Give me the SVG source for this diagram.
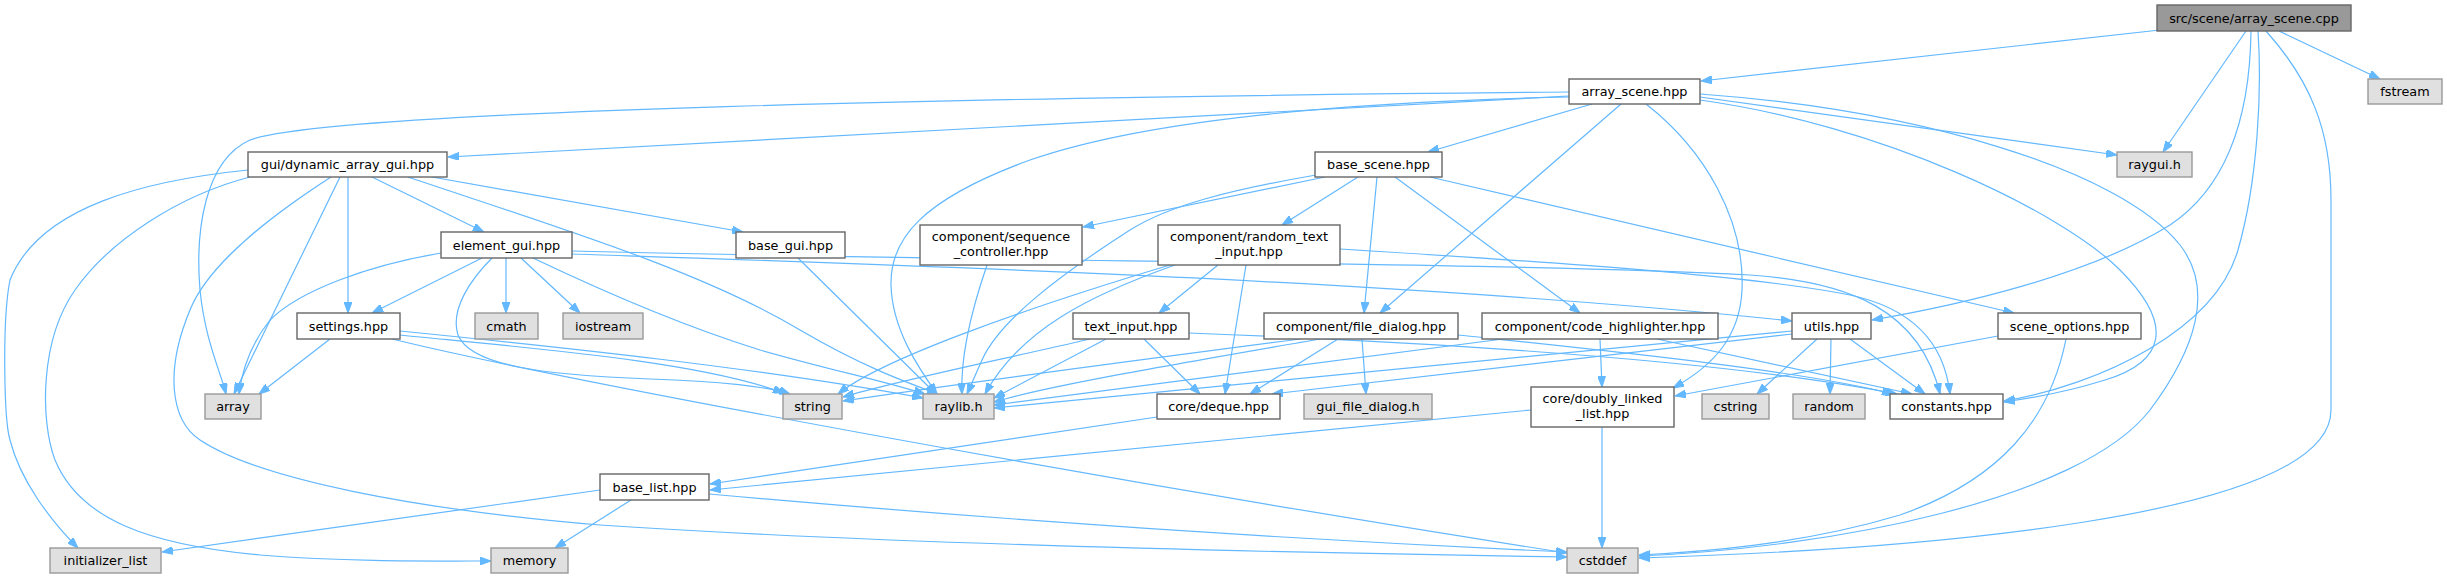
<svg xmlns="http://www.w3.org/2000/svg" width="2447" height="579" viewBox="0 0 2447 579">
<defs>
<marker id="a" markerWidth="11" markerHeight="8" refX="11" refY="4" orient="auto" markerUnits="userSpaceOnUse"><path d="M0,0 L11,4 L0,8 z" fill="#63b8ff" stroke="#63b8ff" stroke-width="1"/></marker>
</defs>
<style>
.n rect{fill:#ffffff;stroke:#666666;stroke-width:1.4}
.x rect{fill:#e0e0e0;stroke:#999999;stroke-width:1.4}
.r rect{fill:#999999;stroke:#666666;stroke-width:1.4}
text{font-family:"DejaVu Sans","Liberation Sans",sans-serif;font-size:12.8px;fill:#000000;text-anchor:middle}
#edges path{fill:none;stroke:#63b8ff;stroke-width:1.2;marker-end:url(#a)}
</style>
<rect width="2447" height="579" fill="#ffffff"/>
<g id="edges">
<path d="M2160,30 L1701,81"/>
<path d="M2246,31 L2163,152"/>
<path d="M2279,31 L2380,79"/>
<path d="M2251,31 C2250,110 2230,185 2170,225 C2090,275 1960,305 1872,320"/>
<path d="M2258,31 C2262,90 2258,180 2238,250 C2215,330 2100,385 2004,401"/>
<path d="M2266,31 C2310,80 2331,130 2331,200 L2331,410 C2331,520 1900,550 1639,558"/>
<path d="M1569,96 L448,157"/>
<path d="M1569,92 C1000,97 330,110 250,140 C205,160 195,230 200,290 C205,340 220,370 226,394"/>
<path d="M1569,97 C1300,103 1130,125 1030,160 C920,200 890,240 891,285 C892,330 920,370 937,394"/>
<path d="M1592,104 L1428,152"/>
<path d="M1621,104 L1380,313"/>
<path d="M1646,104 C1705,150 1745,220 1742,290 C1740,335 1715,365 1673,388"/>
<path d="M1700,97 L2117,155"/>
<path d="M1700,100 C1880,125 2060,210 2120,270 C2175,325 2165,362 2105,380 C2070,391 2040,397 2004,402"/>
<path d="M1700,94 C1920,110 2120,170 2180,245 C2215,290 2195,350 2150,410 C2080,500 1830,548 1639,556"/>
<path d="M1325,177 L1083,227"/>
<path d="M1358,177 L1282,225"/>
<path d="M1316,175 C1230,190 1170,205 1130,230 C1060,275 1000,320 982,360 L967,394"/>
<path d="M1377,177 L1364,313"/>
<path d="M1395,177 L1580,313"/>
<path d="M1430,177 L2014,313"/>
<path d="M248,170 C150,180 40,205 10,280 C2,320 4,420 10,440 C20,480 50,520 78,548"/>
<path d="M250,177 C180,195 110,240 75,290 C40,340 40,420 55,460 C80,520 150,545 260,555 C350,562 430,561 491,561"/>
<path d="M331,177 C280,210 210,260 190,310 C165,370 170,420 200,440 C260,480 420,510 600,525 C900,545 1300,553 1567,557"/>
<path d="M340,177 L234,394"/>
<path d="M348,177 L348,313"/>
<path d="M372,177 L484,232"/>
<path d="M408,177 C550,225 700,270 800,330 C860,365 900,380 938,394"/>
<path d="M432,177 L743,232"/>
<path d="M441,253 C370,265 300,290 270,320 C250,345 242,370 239,394"/>
<path d="M482,258 L372,313"/>
<path d="M492,258 C470,280 450,310 458,335 C470,365 540,375 650,379 C720,381 770,387 790,394"/>
<path d="M506,258 L506,313"/>
<path d="M521,258 L580,313"/>
<path d="M533,258 C600,290 680,325 760,350 C830,370 880,380 925,394"/>
<path d="M572,254 C900,265 1400,280 1792,321"/>
<path d="M572,251 C1000,262 1500,262 1750,275 C1850,282 1920,310 1940,394"/>
<path d="M330,339 L259,394"/>
<path d="M400,335 C550,350 700,362 784,393"/>
<path d="M400,331 C560,347 760,368 923,398"/>
<path d="M392,339 C560,380 1100,480 1567,553"/>
<path d="M798,258 L936,394"/>
<path d="M987,265 C975,300 960,350 962,394"/>
<path d="M1218,265 L1159,313"/>
<path d="M1246,265 L1225,394"/>
<path d="M1175,265 C1090,295 1020,330 985,394"/>
<path d="M1170,265 C1020,310 880,360 838,394"/>
<path d="M1340,249 C1550,262 1750,275 1850,295 C1920,310 1945,350 1950,394"/>
<path d="M1090,339 C1000,360 900,380 843,397"/>
<path d="M1106,339 L994,398"/>
<path d="M1144,339 L1200,394"/>
<path d="M1189,333 C1500,345 1750,365 1897,394"/>
<path d="M1300,339 C1100,365 950,385 843,401"/>
<path d="M1320,339 C1200,360 1050,385 994,402"/>
<path d="M1338,339 L1250,394"/>
<path d="M1362,339 L1366,394"/>
<path d="M1458,335 C1600,350 1800,370 1893,394"/>
<path d="M1503,339 L994,405"/>
<path d="M1600,339 L1602,387"/>
<path d="M1657,339 L1912,394"/>
<path d="M1817,339 L1757,394"/>
<path d="M1831,339 L1830,394"/>
<path d="M1850,339 L1925,394"/>
<path d="M1792,331 L994,408"/>
<path d="M1792,334 L1272,394"/>
<path d="M1998,336 L1675,396"/>
<path d="M2066,339 C2050,420 2000,480 1900,515 C1800,545 1700,552 1639,555"/>
<path d="M1157,417 L710,484"/>
<path d="M1531,410 L710,490"/>
<path d="M1602,427 L1602,548"/>
<path d="M600,490 L162,552"/>
<path d="M631,500 L555,548"/>
<path d="M709,494 C1000,520 1300,540 1567,552"/>
</g>
<g id="n_cpp" class="r"><rect x="2157" y="5" width="194" height="26"/><text x="2254" y="22.5">src/scene/array_scene.cpp</text></g>
<g id="n_array_scene" class="n"><rect x="1569" y="79" width="131" height="25"/><text x="1634.5" y="96">array_scene.hpp</text></g>
<g id="n_fstream" class="x"><rect x="2368" y="79" width="74" height="25"/><text x="2405" y="96">fstream</text></g>
<g id="n_dynamic_array_gui" class="n"><rect x="248" y="152" width="199" height="25"/><text x="347.5" y="169">gui/dynamic_array_gui.hpp</text></g>
<g id="n_base_scene" class="n"><rect x="1315" y="152" width="127" height="25"/><text x="1378.5" y="169">base_scene.hpp</text></g>
<g id="n_raygui" class="x"><rect x="2117" y="152" width="75" height="25"/><text x="2154.5" y="169">raygui.h</text></g>
<g id="n_element_gui" class="n"><rect x="441" y="232" width="131" height="26"/><text x="506.5" y="249.5">element_gui.hpp</text></g>
<g id="n_base_gui" class="n"><rect x="736" y="232" width="109" height="26"/><text x="790.5" y="249.5">base_gui.hpp</text></g>
<g id="n_sequence_controller" class="n"><rect x="920" y="225" width="162" height="40"/><text x="1001" y="241">component/sequence</text><text x="1001" y="256">_controller.hpp</text></g>
<g id="n_random_text_input" class="n"><rect x="1158" y="225" width="182" height="40"/><text x="1249" y="241">component/random_text</text><text x="1249" y="256">_input.hpp</text></g>
<g id="n_settings" class="n"><rect x="297" y="313" width="103" height="26"/><text x="348.5" y="330.5">settings.hpp</text></g>
<g id="n_cmath" class="x"><rect x="475" y="313" width="63" height="26"/><text x="506.5" y="330.5">cmath</text></g>
<g id="n_iostream" class="x"><rect x="563" y="313" width="80" height="26"/><text x="603" y="330.5">iostream</text></g>
<g id="n_text_input" class="n"><rect x="1073" y="313" width="116" height="26"/><text x="1131" y="330.5">text_input.hpp</text></g>
<g id="n_file_dialog" class="n"><rect x="1264" y="313" width="194" height="26"/><text x="1361" y="330.5">component/file_dialog.hpp</text></g>
<g id="n_code_highlighter" class="n"><rect x="1482" y="313" width="236" height="26"/><text x="1600" y="330.5">component/code_highlighter.hpp</text></g>
<g id="n_utils" class="n"><rect x="1792" y="313" width="79" height="26"/><text x="1831.5" y="330.5">utils.hpp</text></g>
<g id="n_scene_options" class="n"><rect x="1998" y="313" width="143" height="26"/><text x="2069.5" y="330.5">scene_options.hpp</text></g>
<g id="n_array" class="x"><rect x="205" y="394" width="56" height="25"/><text x="233" y="411">array</text></g>
<g id="n_string" class="x"><rect x="783" y="394" width="59" height="25"/><text x="812.5" y="411">string</text></g>
<g id="n_raylib" class="x"><rect x="923" y="394" width="71" height="25"/><text x="958.5" y="411">raylib.h</text></g>
<g id="n_deque" class="n"><rect x="1157" y="394" width="123" height="25"/><text x="1218.5" y="411">core/deque.hpp</text></g>
<g id="n_gui_file_dialog" class="x"><rect x="1304" y="394" width="128" height="25"/><text x="1368" y="411">gui_file_dialog.h</text></g>
<g id="n_doubly_linked_list" class="n"><rect x="1531" y="387" width="143" height="40"/><text x="1602.5" y="403">core/doubly_linked</text><text x="1602.5" y="418">_list.hpp</text></g>
<g id="n_cstring" class="x"><rect x="1702" y="394" width="67" height="25"/><text x="1735.5" y="411">cstring</text></g>
<g id="n_random" class="x"><rect x="1793" y="394" width="72" height="25"/><text x="1829" y="411">random</text></g>
<g id="n_constants" class="n"><rect x="1890" y="394" width="113" height="25"/><text x="1946.5" y="411">constants.hpp</text></g>
<g id="n_base_list" class="n"><rect x="600" y="474" width="109" height="26"/><text x="654.5" y="491.5">base_list.hpp</text></g>
<g id="n_initializer_list" class="x"><rect x="50" y="548" width="111" height="25"/><text x="105.5" y="565">initializer_list</text></g>
<g id="n_memory" class="x"><rect x="491" y="548" width="77" height="25"/><text x="529.5" y="565">memory</text></g>
<g id="n_cstddef" class="x"><rect x="1567" y="548" width="71" height="25"/><text x="1602.5" y="565">cstddef</text></g>
</svg>
